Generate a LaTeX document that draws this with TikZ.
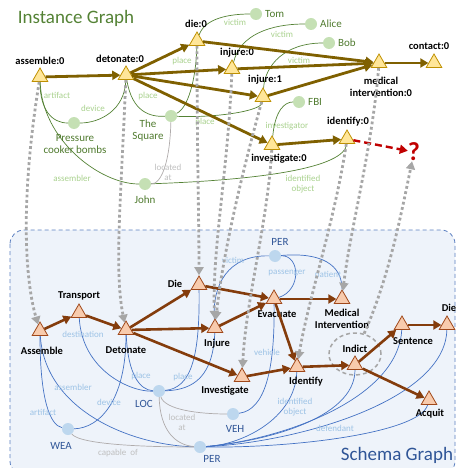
\documentclass[tikz,border=0pt]{standalone}
\usepackage{fontspec}
\setmainfont{Carlito}
\usetikzlibrary{arrows.meta,shapes.geometric}
\definecolor{itrifill}{HTML}{FFE699}
\definecolor{itridraw}{HTML}{BF9000}
\definecolor{ibrown}{HTML}{7F6000}
\definecolor{ientfill}{HTML}{C5E0B4}
\definecolor{ienttext}{HTML}{4F7A2E}
\definecolor{ielabel}{HTML}{A9D18E}
\definecolor{iline}{HTML}{548235}
\definecolor{stri}{HTML}{F8CBAD}
\definecolor{stridraw}{HTML}{A0481A}
\definecolor{sbrown}{HTML}{843C0C}
\definecolor{sentfill}{HTML}{BDD7EE}
\definecolor{senttext}{HTML}{2F5597}
\definecolor{slabel}{HTML}{9DC3E6}
\definecolor{sline}{HTML}{4472C4}
\definecolor{dotgray}{HTML}{A6A6A6}
\definecolor{glinec}{HTML}{AFABAB}
\definecolor{glabel}{HTML}{BFBFBF}
\definecolor{boxfill}{HTML}{EEF3FA}
\definecolor{boxdraw}{HTML}{5B7FC0}
\definecolor{qred}{HTML}{C00000}
\pgfdeclarelayer{back}
\pgfdeclarelayer{edges}
\pgfsetlayers{back,edges,main}
\begin{document}
\begin{tikzpicture}[x=1pt,y=-1pt,
  itri/.style={regular polygon,regular polygon sides=3,minimum size=18pt,inner sep=0pt,fill=itrifill,draw=itridraw,line width=0.8pt},
  stria/.style={regular polygon,regular polygon sides=3,minimum size=18pt,inner sep=0pt,fill=stri,draw=stridraw,line width=0.8pt},
  evlab/.style={font=\fontsize{10.5}{12}\selectfont\bfseries,text=black,align=center,inner sep=0pt},
  ient/.style={circle,fill=ientfill,minimum size=12pt,inner sep=0pt},
  sentity/.style={circle,fill=sentfill,minimum size=12pt,inner sep=0pt},
  ietext/.style={font=\fontsize{11}{12}\selectfont,text=ienttext,align=center,inner sep=0pt},
  setext/.style={font=\fontsize{11}{12}\selectfont,text=senttext,align=center,inner sep=0pt},
  ielab/.style={font=\fontsize{9}{10}\selectfont,text=ielabel,align=center,inner sep=0pt},
  selab/.style={font=\fontsize{9}{10}\selectfont,text=slabel,align=center,inner sep=0pt},
  grlab/.style={font=\fontsize{9}{10}\selectfont,text=glabel,align=center,inner sep=0pt},
  iedge/.style={draw=iline,line width=0.7pt},
  sedge/.style={draw=sline,line width=0.7pt},
  gedge/.style={draw=glinec,line width=0.7pt},
  iarr/.style={draw=ibrown,line width=2.8pt,-{Triangle[length=8pt,width=9pt]}},
  sarr/.style={draw=sbrown,line width=2.6pt,-{Triangle[length=8pt,width=9pt]}},
  dots/.style={draw=dotgray,line width=2.8pt,dash pattern=on 2.8pt off 2.6pt,-{Triangle[length=8pt,width=9pt]}},
]
\useasboundingbox (0,0) rectangle (457,468);

% schema box
\begin{pgfonlayer}{back}
\draw[fill=boxfill,draw=boxdraw,line width=0.8pt,dash pattern=on 4pt off 3pt,rounded corners=14pt] (10,230) rectangle (455,475);
\end{pgfonlayer}

% titles
\node[font=\fontsize{19}{21}\selectfont,text=iline,inner sep=0pt] (ititle) at (76,18) {Instance Graph};
\node[font=\fontsize{19}{21}\selectfont,text=senttext,inner sep=0pt] (stitle) at (397,455) {Schema Graph};

% ---------- instance events ----------
\node[itri] (asm0) at (40,77) {};
\node[itri] (det0) at (126,75) {};
\node[itri] (die0) at (197,41) {};
\node[itri] (inj0) at (232,69) {};
\node[itri] (inj1) at (263,97) {};
\node[itri] (med0) at (379,63) {};
\node[itri] (con0) at (434,63) {};
\node[itri] (inv0) at (272,145) {};
\node[itri] (idf0) at (347,139) {};
\node[font=\fontsize{26}{28}\selectfont\bfseries,text=qred,inner sep=0pt] (q) at (414,152) {?};

\node[evlab] (asm0l) at (40,61) {assemble:0};
\node[evlab] (det0l) at (120,59) {detonate:0};
\node[evlab] (die0l) at (196,24) {die:0};
\node[evlab] (inj0l) at (237,53) {injure:0};
\node[evlab] (inj1l) at (265,80) {injure:1};
\node[evlab] (med0l) at (381,87) {medical\\intervention:0};
\node[evlab] (con0l) at (429,46) {contact:0};
\node[evlab] (inv0l) at (279,159) {investigate:0};
\node[evlab] (idf0l) at (348,122) {identify:0};

% ---------- instance entities ----------
\node[ient] (tom) at (256,14) {};
\node[ient] (alice) at (311,24) {};
\node[ient] (bob) at (329,43) {};
\node[ient] (fbi) at (299,102) {};
\node[ient] (pcb) at (74,123) {};
\node[ient] (sq) at (171,116) {};
\node[ient] (john) at (145,184) {};
\node[ietext,anchor=west] (toml) at (265,14) {Tom};
\node[ietext,anchor=west] (alicel) at (320,24) {Alice};
\node[ietext,anchor=west] (bobl) at (338,43) {Bob};
\node[ietext,anchor=west] (fbil) at (308,102) {FBI};
\node[ietext] (pcbl) at (75,144) {Pressure\\cooker bombs};
\node[ietext] (sql) at (148,131) {The\\Square};
\node[ietext] (johnl) at (145,200) {John};

% instance edge labels
\node[ielab] (l1) at (57,95) {artifact};
\node[ielab] (l2) at (93,108) {device};
\node[ielab] (l3) at (148,96) {place};
\node[ielab] (l4) at (182,61) {place};
\node[ielab] (l5) at (205,122) {place};
\node[ielab] (l6) at (235,22) {victim};
\node[ielab] (l7) at (282,34) {victim};
\node[ielab] (l8) at (299,60) {victim};
\node[ielab] (l9) at (287,126) {investigator};
\node[ielab] (l10) at (72,178) {assembler};
\node[ielab] (l11) at (303,184) {identified\\object};
\node[grlab] (l12) at (168,172) {located\\at};

% ---------- schema events ----------
\node[stria] (Asm) at (40,331) {};
\node[stria] (Trans) at (79,313) {};
\node[stria] (Det) at (126,330) {};
\node[stria] (Die) at (199,285) {};
\node[stria] (Inj) at (215,328) {};
\node[stria] (Evac) at (274,299) {};
\node[stria] (Med) at (342,299) {};
\node[stria] (Inv) at (242,377) {};
\node[stria] (Idf) at (297,367) {};
\node[stria] (Ind) at (355,365) {};
\node[stria] (Sent) at (402,325) {};
\node[stria] (DieB) at (447,325) {};
\node[stria] (Acq) at (429,400) {};
\node[draw=dotgray,line width=1.5pt,dash pattern=on 4pt off 3pt,ellipse,minimum width=52pt,minimum height=42pt,inner sep=0pt] (indc) at (355,354) {};

\node[evlab] (Asml) at (42,351) {Assemble};
\node[evlab] (Transl) at (79,296) {Transport};
\node[evlab] (Detl) at (126,350) {Detonate};
\node[evlab] (Diel) at (175,284) {Die};
\node[evlab] (Injl) at (217,344) {Injure};
\node[evlab] (Evacl) at (277,314) {Evacuate};
\node[evlab] (Medl) at (342,319) {Medical\\Intervention};
\node[evlab] (Invl) at (225,391) {Investigate};
\node[evlab] (Idfl) at (306,382) {Identify};
\node[evlab] (Indl) at (355,349) {Indict};
\node[evlab] (Sentl) at (413,341) {Sentence};
\node[evlab] (DieBl) at (449,308) {Die};
\node[evlab] (Acql) at (430,414) {Acquit};

% ---------- schema entities ----------
\node[sentity] (PERa) at (275,256) {};
\node[sentity] (LOC) at (159,391) {};
\node[sentity] (WEA) at (68,429) {};
\node[sentity] (VEH) at (233,414) {};
\node[sentity] (PERb) at (200,447) {};
\node[setext] (PERal) at (280,242) {PER};
\node[setext] (LOCl) at (144,404) {LOC};
\node[setext] (WEAl) at (61,446) {WEA};
\node[setext] (VEHl) at (235,429) {VEH};
\node[setext] (PERbl) at (212,459) {PER};

% schema edge labels
\node[selab] (s1) at (83,334) {destination};
\node[selab] (s2) at (43,412) {artifact};
\node[selab] (s3) at (73,387) {assembler};
\node[selab] (s4) at (109,402) {device};
\node[selab] (s5) at (141,376) {place};
\node[selab] (s6) at (183,377) {place};
\node[selab] (s7) at (233,260) {victim};
\node[selab] (s8) at (287,273) {passenger};
\node[selab] (s9) at (328,275) {patient};
\node[selab] (s10) at (267,352) {vehicle};
\node[selab] (s11) at (295,407) {identified\\object};
\node[selab] (s12) at (335,428) {defendant};
\node[grlab] (s13) at (182,422) {located\\at};
\node[grlab] (s14) at (118,453) {capable\ \ of};

% ---------- edges (behind nodes) ----------
\begin{pgfonlayer}{edges}
% instance role edges
\draw[iedge] (asm0) .. controls (40,110) and (52,123) .. (pcb);
\draw[iedge] (det0) .. controls (125,110) and (100,123) .. (pcb);
\draw[iedge] (det0) .. controls (132,112) and (150,117) .. (sq);
\draw[iedge] (sq) .. controls (188,108) and (196,80) .. (die0);
\draw[iedge] (sq) .. controls (210,118) and (262,112) .. (inj1);
\draw[iedge] (die0) .. controls (205,18) and (230,14) .. (tom);
\draw[iedge] (inj0) .. controls (240,35) and (270,24) .. (alice);
\draw[iedge] (inj1) .. controls (265,65) and (285,43) .. (bob);
\draw[iedge] (inv0) .. controls (275,110) and (285,102) .. (fbi);
\draw[iedge] (asm0) .. controls (42,140) and (100,184) .. (john);
\draw[iedge] (john) .. controls (260,180) and (345,168) .. (idf0);
\draw[gedge] (sq) .. controls (170,160) and (162,184) .. (john);
% schema role edges
\draw[sedge] (Trans) .. controls (82,370) and (130,392) .. (LOC);
\draw[sedge] (Det) .. controls (128,375) and (140,390) .. (LOC);
\draw[sedge] (Det) .. controls (126,400) and (100,428) .. (WEA);
\draw[sedge] (Asm) .. controls (40,400) and (50,425) .. (WEA);
\draw[sedge] (Asm) .. controls (45,410) and (130,445) .. (PERb);
\draw[sedge] (Die) .. controls (200,360) and (190,388) .. (LOC);
\draw[sedge] (Inj) .. controls (213,375) and (195,390) .. (LOC);
\draw[sedge] (PERa) .. controls (228,255) and (212,285) .. (Inj);
\draw[sedge] (Evac) .. controls (302,290) and (300,255) .. (PERa);
\draw[sedge] (PERa) .. controls (322,252) and (342,265) .. (Med);
\draw[sedge] (Evac) .. controls (275,370) and (265,410) .. (VEH);
\draw[sedge] (Idf) .. controls (295,420) and (240,445) .. (PERb);
\draw[sedge] (Ind) .. controls (355,420) and (260,442) .. (PERb);
\draw[sedge] (Sent) .. controls (398,400) and (280,440) .. (PERb);
\draw[sedge] (DieB) .. controls (445,400) and (300,442) .. (PERb);
\draw[sedge] (Acq) .. controls (420,432) and (300,448) .. (PERb);
\draw[gedge] (LOC) .. controls (165,410) and (200,414) .. (VEH);
\draw[gedge] (LOC) .. controls (160,430) and (175,445) .. (PERb);
\draw[gedge] (WEA) .. controls (80,445) and (150,447) .. (PERb);
\end{pgfonlayer}

% instance event arrows
\draw[iarr] (asm0) -- (det0);
\draw[iarr] (det0) -- (die0);
\draw[iarr] (det0) -- (inj0);
\draw[iarr] (det0) -- (inj1);
\draw[iarr] (det0) -- (inv0);
\draw[iarr] (die0) -- (med0);
\draw[iarr] (inj0) -- (med0);
\draw[iarr] (inj1) -- (med0);
\draw[iarr] (med0) -- (con0);
\draw[iarr] (inv0) -- (idf0);
\draw[draw=qred,line width=2.4pt,dash pattern=on 7pt off 4pt,-{Triangle[length=8pt,width=9pt]}] (idf0) -- (q);

% schema event arrows
\draw[sarr] (Asm) -- (Trans);
\draw[sarr] (Trans) -- (Det);
\draw[sarr] (Det) -- (Die);
\draw[sarr] (Det) -- (Inj);
\draw[sarr] (Det) -- (Inv);
\draw[sarr] (Die) -- (Evac);
\draw[sarr] (Inj) -- (Evac);
\draw[sarr] (Evac) -- (Med);
\draw[sarr] (Evac) -- (Idf);
\draw[sarr] (Inv) -- (Idf);
\draw[sarr] (Idf) -- (Ind);
\draw[sarr] (Ind) -- (Sent);
\draw[sarr] (Sent) -- (DieB);
\draw[sarr] (Ind) -- (Acq);

% instance-to-schema dotted arrows
\draw[dots] (asm0) .. controls (20,200) and (25,280) .. (Asm);
\draw[dots] (det0) .. controls (121,200) and (114,270) .. (Det);
\draw[dots] (die0) .. controls (197,150) and (199,220) .. (Die);
\draw[dots] (inj0) .. controls (228,170) and (212,250) .. (Inj);
\draw[dots] (inj1) .. controls (240,180) and (222,260) .. (Inj);
\draw[dots] (med0) .. controls (372,150) and (350,230) .. (Med);
\draw[dots] (inv0) .. controls (268,220) and (246,300) .. (Inv);
\draw[dots] (idf0) .. controls (335,220) and (308,300) .. (Idf);
\draw[dots] (indc) .. controls (388,280) and (400,220) .. (q);
\end{tikzpicture}
\end{document}
